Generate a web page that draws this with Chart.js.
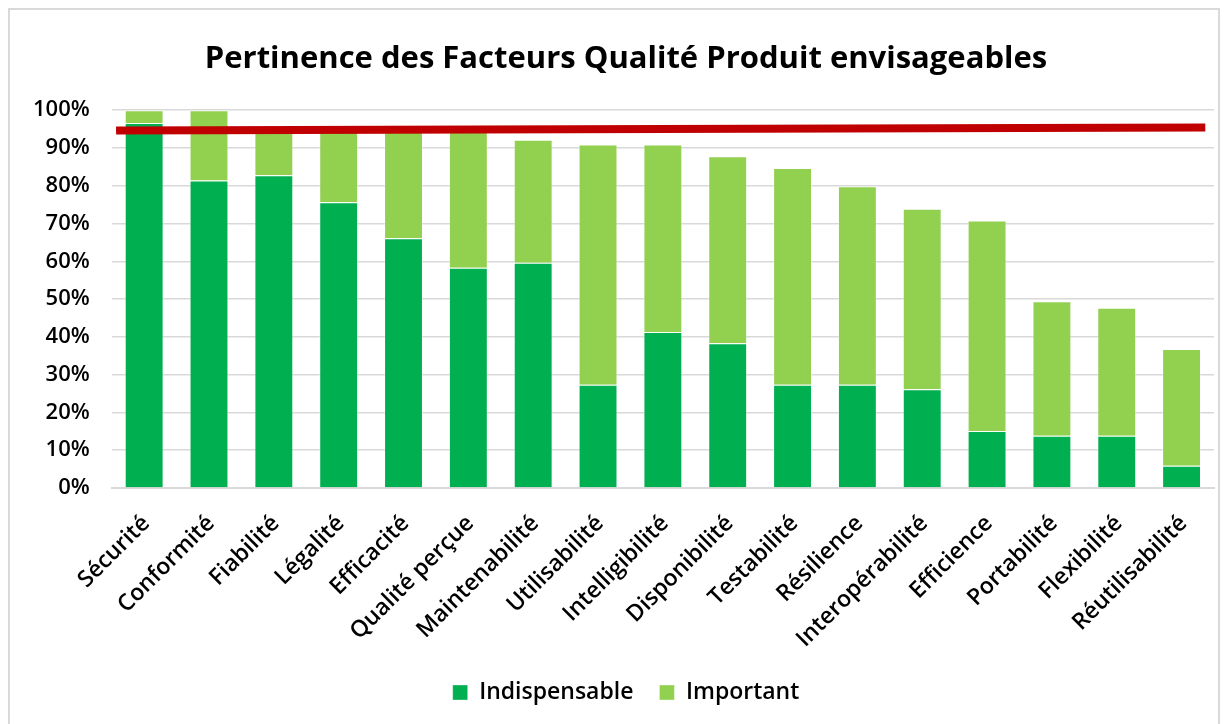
<!DOCTYPE html>
<html>
<head>
<meta charset="utf-8">
<script src="https://cdn.jsdelivr.net/npm/chart.js@4"></script>
<style>
    body { margin: 0; background: #fff; }
    #wrap { position: absolute; left: 8px; top: 8px; width: 1212px; height: 716px; border: 2px solid #d9d9d9; border-bottom: none; box-sizing: border-box; }
    #cv { position: absolute; left: 0; top: 0; }
</style>
</head>
<body>
<div id="wrap"></div>
<canvas id="cv" width="1231" height="724"></canvas>
<script>
// donnees (en %)
const facteurs = ['Sécurité', 'Conformité', 'Fiabilité', 'Légalité', 'Efficacité', 'Qualité perçue',
    'Maintenabilité', 'Utilisabilité', 'Intelligibilité', 'Disponibilité', 'Testabilité', 'Résilience',
    'Interopérabilité', 'Efficience', 'Portabilité', 'Flexibilité', 'Réutilisabilité'];
const indispensable = [96.6, 81.4, 82.8, 75.6, 66.1, 58.3, 59.6, 27.3, 41.3, 38.3, 27.3, 27.3, 26.1, 15.1, 13.8, 13.8, 5.9];
const important = [3.4, 18.6, 11.7, 18.9, 28.4, 36.1, 32.6, 63.6, 49.6, 49.5, 57.4, 52.6, 47.8, 55.7, 35.6, 33.9, 30.9];
const seuil = [94.6, 95.4]; // trait rouge, debut et fin
const yTicks = [0, 10, 20, 30, 40, 50, 60, 70, 80, 90, 100];

const police = "'Open Sans', sans-serif";

new Chart(document.getElementById('cv'), {
    type: 'bar',
    data: {
        labels: facteurs,
        datasets: [
            {
                label: 'Seuil',
                type: 'line',
                data: seuil.map((v, i) => ({ x: i, y: v })),
                xAxisID: 'xLine',
                borderColor: '#C00000',
                borderWidth: 8,
                pointRadius: 0,
                clip: false,
                order: 0
            },
            {
                label: 'Indispensable',
                data: indispensable,
                backgroundColor: '#00B050',
                borderColor: 'rgba(255,255,255,0.35)',
                borderWidth: 1,
                grouped: false,
                barPercentage: 0.6,
                categoryPercentage: 1,
                order: 1
            },
            {
                label: 'Important',
                data: important,
                backgroundColor: '#92D050',
                borderColor: 'rgba(255,255,255,0.35)',
                borderWidth: 1,
                grouped: false,
                barPercentage: 0.6,
                categoryPercentage: 1,
                order: 1
            }
        ]
    },
    options: {
        responsive: false,
        animation: false,
        // padding droite negative + axe vide a droite : titre et legende centres comme l'original
        layout: { padding: { left: 11, right: -10, top: 41, bottom: 10 } },
        plugins: {
            tooltip: { enabled: false },
            title: {
                display: true,
                text: 'Pertinence des Facteurs Qualité Produit envisageables',
                color: '#000',
                font: { family: police, size: 31, weight: 'bold' },
                padding: { top: 0, bottom: 32 }
            },
            legend: {
                position: 'bottom',
                labels: {
                    color: '#000',
                    font: { family: police, size: 23, weight: '600' },
                    boxWidth: 15,
                    boxHeight: 15,
                    padding: 26,
                    filter: item => item.text !== 'Seuil'
                }
            }
        },
        scales: {
            x: {
                stacked: true,
                grid: { display: false },
                border: { color: '#d9d9d9', width: 2 },
                afterFit: s => { s.height -= 12; },
                ticks: {
                    color: '#000',
                    font: { family: police, size: 23, weight: '600' },
                    minRotation: 45,
                    maxRotation: 45,
                    autoSkip: false,
                    labelOffset: 2,
                    padding: 14
                }
            },
            xLine: {
                type: 'linear',
                display: false,
                offset: false,
                min: -0.004,
                max: 1.008
            },
            y: {
                stacked: true,
                min: 0,
                max: 100,
                afterBuildTicks: axis => { axis.ticks = yTicks.map(v => ({ value: v })); },
                grid: { color: '#d9d9d9', lineWidth: 1.5, drawTicks: false },
                border: { display: false },
                ticks: {
                    color: '#000',
                    font: { family: police, size: 22, weight: '600' },
                    padding: 22,
                    callback: v => v + '%'
                }
            },
            yVide: {
                position: 'right',
                min: 0,
                max: 100,
                grid: { display: false },
                border: { display: false },
                ticks: { display: false },
                afterFit: s => { s.width = 27; }
            }
        }
    }
});
</script>
</body>
</html>
